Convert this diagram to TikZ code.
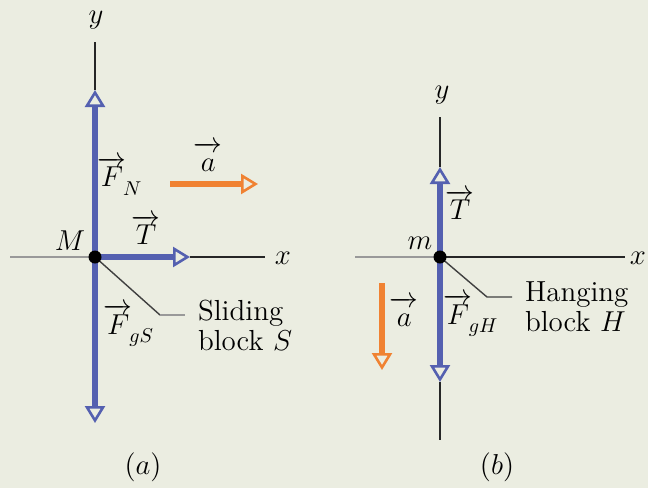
\documentclass[tikz,border=0pt]{standalone}
\usetikzlibrary{arrows.meta,positioning}
\definecolor{forceblue}{RGB}{84,96,176}
\definecolor{accorange}{RGB}{240,130,50}
\definecolor{paper}{RGB}{235,237,225}
\newcommand{\vlab}[2]{$\overrightarrow{\mathstrut #1}_{\!#2}$}

\begin{document}
\begin{tikzpicture}[x=0.5pt,y=-0.5pt,font=\fontsize{14.5}{15}\selectfont,
        axis/.style={line width=0.8pt, black!85},
        negaxis/.style={line width=0.8pt, black!40},
        openhead/.style={-{Triangle[open,length=8.5pt,width=10pt,line width=1.3pt]}},
        force/.style={line width=2.6pt, forceblue, openhead},
        accel/.style={line width=2.6pt, accorange, openhead},
        leader/.style={line width=0.7pt, black!75},
        dot/.style={circle, fill=black, inner sep=0pt, minimum size=6.5pt}]
        \useasboundingbox[fill=paper] (0,0) rectangle (648,488);

        % (a) sliding block
        \coordinate (S) at (95,257);
        \coordinate (ytopS) at (95,42);
        \coordinate (FNtip) at (95,90);
        \coordinate (TtipS) at (190,257);
        \coordinate (xendS) at (265,257);
        \coordinate (xstartS) at (10,257);
        \coordinate (FgStip) at (95,423);
        \coordinate (kneeS) at (160,315);
        \coordinate (endS) at (185,315);

        \draw[negaxis] (xstartS) -- (S);
        \draw[axis] (TtipS) -- (xendS);
        \draw[axis] (ytopS) -- (FNtip);
        \draw[force] (S) -- (FNtip);
        \draw[force] (S) -- (TtipS);
        \draw[force] (S) -- (FgStip);
        \draw[leader] (S) -- (kneeS);
        \draw[leader, black!40] (kneeS) -- (endS);
        \node (dotS) [dot] at (S) {};

        \node (yS) [inner sep=1pt] at (96,20) {$y$};
        \node (xS) at (283,258) {$x$};
        \node (MS) at (70,241) {$M$};
        \node (FN) at (120,176) {\vlab{F}{N}};
        \node (TS) at (145,234) {\vlab{T}{}};
        \node (FgS) at (129,325) {\vlab{F}{gS}};
        \node (slide) [right=3pt of endS, anchor=north west, yshift=11pt, align=left] {Sliding\\block $S$};
        \coordinate (aStart) at (170,184);
        \coordinate (aEnd) at (258,184);
        \draw[accel] (aStart) -- (aEnd);
        \node (aS) at (207,161) {\vlab{a}{}};
        \node (capA) at (143,467) {($a$)};

        % (b) hanging block
        \coordinate (H) at (440,257);
        \coordinate (ytopH) at (440,117);
        \coordinate (TtipH) at (440,167);
        \coordinate (FgHtip) at (440,382);
        \coordinate (ybotH) at (440,440);
        \coordinate (xstartH) at (355,257);
        \coordinate (xendH) at (625,257);
        \coordinate (kneeH) at (487,297);
        \coordinate (endH) at (512,297);

        \draw[negaxis] (xstartH) -- (H);
        \draw[axis] (H) -- (xendH);
        \draw[axis] (ytopH) -- (TtipH);
        \draw[axis] (FgHtip) -- (ybotH);
        \draw[force] (H) -- (TtipH);
        \draw[force] (H) -- (FgHtip);
        \draw[leader] (H) -- (kneeH) -- (endH);
        \node (dotH) [dot] at (H) {};

        \node (yH) [inner sep=1pt] at (442,95) {$y$};
        \node (xH) [inner sep=0pt] at (638,258) {$x$};
        \node (mH) at (420,243) {$m$};
        \node (TH) at (459,209) {\vlab{T}{}};
        \node (FgH) at (471,315) {\vlab{F}{gH}};
        \node (hang) [right=3pt of endH, anchor=north west, yshift=11pt, align=left] {Hanging\\block $H$};
        \coordinate (aTop) at (382,283);
        \coordinate (aBot) at (382,370);
        \draw[accel] (aTop) -- (aBot);
        \node (aH) at (403,316) {\vlab{a}{}};
        \node (capB) at (497,467) {($b$)};
    \end{tikzpicture}
\end{document}
